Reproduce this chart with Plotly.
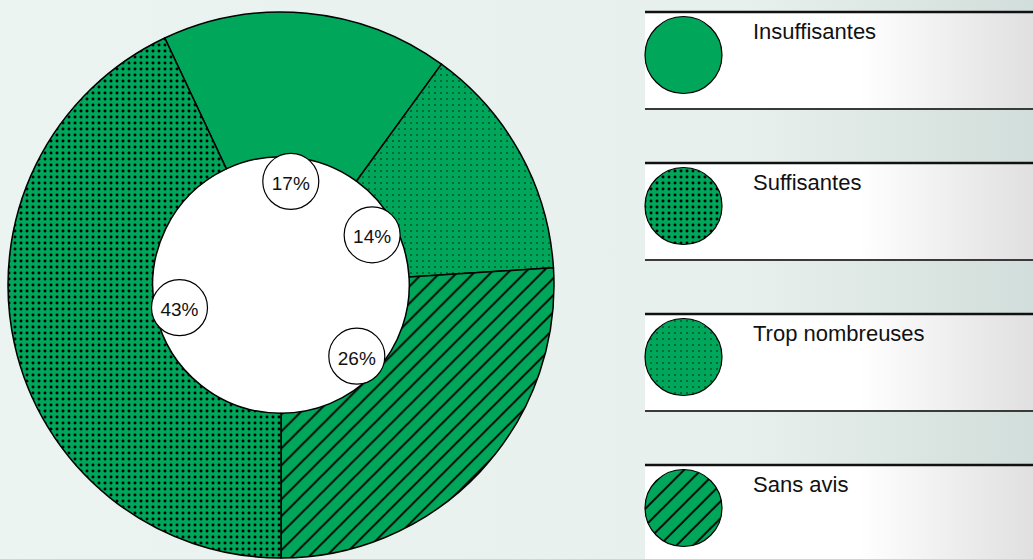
import math
import plotly.graph_objects as go

# ---- data (legend order) ----
categories = ["Insuffisantes", "Suffisantes", "Trop nombreuses", "Sans avis"]
values = [17, 43, 14, 26]
pct_labels = ["17%", "43%", "14%", "26%"]
# order in which slices run clockwise around the donut
pie_order = ["Insuffisantes", "Trop nombreuses", "Sans avis", "Suffisantes"]

# ---- styles ----
GREEN = "#00a65a"
patterns = {
    "Insuffisantes": dict(shape="", size=6, solidity=0.1),
    "Suffisantes": dict(shape=".", size=6, solidity=0.19),
    "Trop nombreuses": dict(shape=".", size=6, solidity=0.04),
    "Sans avis": dict(shape="/", size=12, solidity=0.16),
}
FONT = "Liberation Sans, Arial, sans-serif"
W, H = 1033, 559
CX, CY, R = 281, 285, 273
HOLE = 0.47
LABEL_R = 104
LABEL_RAD = 28


def pat(cats):
    return dict(shape=[patterns[c]["shape"] for c in cats],
                size=[patterns[c]["size"] for c in cats],
                solidity=[patterns[c]["solidity"] for c in cats],
                fgcolor="black", bgcolor=GREEN, fillmode="replace")


fig = go.Figure()

# background gradient
fig.add_trace(go.Scatter(
    x=[0, W, W, 0, 0], y=[0, 0, H, H, 0], mode="lines", fill="toself",
    line=dict(width=0), hoverinfo="skip", showlegend=False,
    fillgradient=dict(type="horizontal",
                      colorscale=[[0, "#ecf4f1"], [0.72, "#e8f0ed"], [1, "#d2dedb"]]),
))

# legend boxes
LX0, ROW0, ROWSTEP, ROWH = 645, 12, 151, 97
shapes = []
annotations = []
for i, cat in enumerate(categories):
    top = ROW0 + ROWSTEP * i
    bot = top + ROWH
    fig.add_trace(go.Scatter(
        x=[LX0, W, W, LX0, LX0], y=[top, top, bot, bot, top], mode="lines", fill="toself",
        line=dict(width=0), hoverinfo="skip", showlegend=False,
        fillgradient=dict(type="horizontal",
                          colorscale=[[0, "#ffffff"], [0.55, "#ffffff"], [1, "#e0e0e0"]]),
    ))
    shapes.append(dict(type="line", xref="x", yref="y", x0=LX0, x1=W, y0=top, y1=top,
                       line=dict(color="#111111", width=2.5), layer="above"))
    shapes.append(dict(type="line", xref="x", yref="y", x0=LX0, x1=W, y0=bot, y1=bot,
                       line=dict(color="#3a3a3a", width=2), layer="above"))
    annotations.append(dict(x=751, y=top + 19, xref="x", yref="y", text=cat,
                            showarrow=False, xanchor="left", yanchor="middle",
                            font=dict(family=FONT, size=22, color="#111111")))
    # legend icon as a one-slice pie
    icx, icy, ir = 683.5, top + 43, 38.5
    fig.add_trace(go.Pie(
        values=[1], labels=[cat], sort=False, textinfo="none", hoverinfo="label",
        showlegend=False,
        domain=dict(x=[(icx - ir) / W, (icx + ir) / W], y=[(H - icy - ir) / H, (H - icy + ir) / H]),
        marker=dict(colors=[GREEN], line=dict(color="black", width=1.2), pattern=pat([cat])),
    ))

# white disc behind the donut hole
hr = R * HOLE
fig.add_trace(go.Pie(
    values=[1], labels=[""], textinfo="none", hoverinfo="skip", showlegend=False, sort=False,
    domain=dict(x=[(CX - hr) / W, (CX + hr) / W], y=[(H - CY - hr) / H, (H - CY + hr) / H]),
    marker=dict(colors=["white"], line=dict(width=0)),
))

# main donut
vals = [values[categories.index(c)] for c in pie_order]
total = sum(vals)
rotation = 180 - 360 * sum(vals[:-1]) / total
fig.add_trace(go.Pie(
    labels=pie_order, values=vals, sort=False, direction="clockwise", rotation=rotation,
    hole=HOLE, textinfo="none", showlegend=False,
    domain=dict(x=[(CX - R) / W, (CX + R) / W], y=[(H - CY - R) / H, (H - CY + R) / H]),
    marker=dict(colors=[GREEN] * len(vals), line=dict(color="black", width=1.5),
                pattern=pat(pie_order)),
))

# percentage bubbles at the inner edge, mid-angle of each slice
cum = 0
for c, v in zip(pie_order, vals):
    mid = rotation + 360 * (cum + v / 2) / total
    cum += v
    th = math.radians(mid)
    x = CX + LABEL_R * math.sin(th)
    y = CY - LABEL_R * math.cos(th)
    lab = pct_labels[categories.index(c)]
    shapes.append(dict(type="circle", xref="x", yref="y",
                       x0=x - LABEL_RAD, x1=x + LABEL_RAD, y0=y - LABEL_RAD, y1=y + LABEL_RAD,
                       fillcolor="white", line=dict(color="black", width=1.2), layer="above",
                       label=dict(text=lab, textposition="middle center",
                                  font=dict(family=FONT, size=19, color="#111111"))))

fig.update_layout(
    width=W, height=H, margin=dict(l=0, r=0, t=0, b=0),
    paper_bgcolor="#ecf4f1", plot_bgcolor="#ecf4f1",
    xaxis=dict(range=[0, W], visible=False, fixedrange=True),
    yaxis=dict(range=[H, 0], visible=False, fixedrange=True),
    shapes=shapes, annotations=annotations, showlegend=False,
)

fig.write_html("out.html", config={"displayModeBar": False},
               post_script="document.body.style.margin='0px';")
